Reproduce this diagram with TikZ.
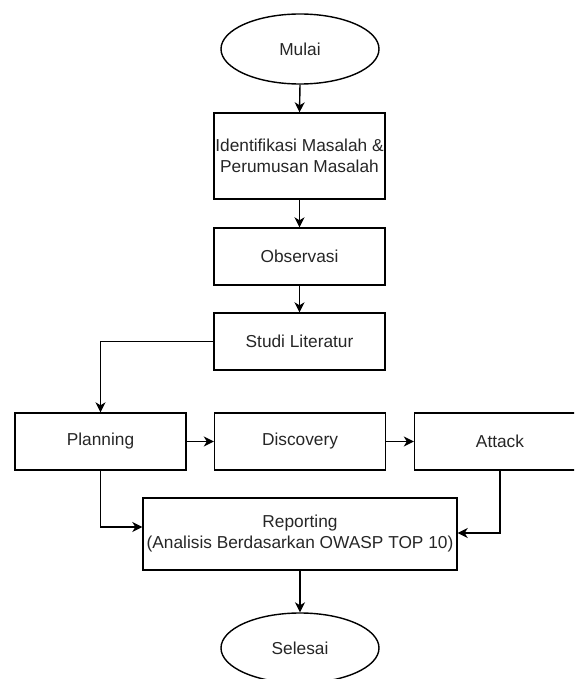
\documentclass[tikz,border=0pt]{standalone}
\usepackage{fontspec}
\setmainfont{Liberation Sans}
\usetikzlibrary{arrows.meta,shapes.geometric}
\begin{document}
\begin{tikzpicture}[x=1pt,y=-1pt,
  every node/.style={font=\fontsize{17.3}{21}\selectfont, text=black!85},
  procbox/.style={draw, line width=1.4pt, rectangle, minimum width=171pt, minimum height=57pt, inner sep=0pt, align=center},
  terminal/.style={draw, line width=1.4pt, ellipse, minimum width=158pt, minimum height=70pt, inner sep=0pt},
  link/.style={line width=1.4pt, -{Stealth[length=10pt,width=10pt,inset=3pt]}}]
\clip (0,0) rectangle (574,679);
\useasboundingbox (0,0) rectangle (574,679);
\node[terminal] (mulai) at (300,49) {Mulai};
\node[procbox, minimum height=86pt] (ident) at (299.5,156) {Identifikasi Masalah \&\\Perumusan Masalah};
\node[procbox] (obs) at (299.5,256.5) {Observasi};
\node[procbox] (studi) at (299.5,341.5) {Studi Literatur};
\node[procbox] (plan) at (100.5,441.5) {Planning};
\node[procbox] (disc) at (300,441.5) {Discovery};
\node[procbox] (att) at (500,441.5) {Attack};
\node[procbox, minimum width=314pt, minimum height=72pt] (rep) at (300,534) {Reporting\\(Analisis Berdasarkan OWASP TOP 10)};
\node[terminal] (sel) at (300,648) {Selesai};
\coordinate (c1) at (100.5,341.5);
\coordinate (c2) at (100.5,527);
\coordinate (c3) at (500,533);
\draw[link] (mulai.south) -- (ident.north);
\draw[link] (ident) -- (obs);
\draw[link] (obs) -- (studi);
\draw[link] (studi.west) -- (c1) -- (plan.north);
\draw[link] (plan) -- (disc);
\draw[link] (disc) -- (att);
\draw[link] (plan.south) -- (c2) -- (rep.west |- c2);
\draw[link] (att.south) -- (c3) -- (rep.east |- c3);
\draw[link] (rep) -- (sel);
\end{tikzpicture}
\end{document}
